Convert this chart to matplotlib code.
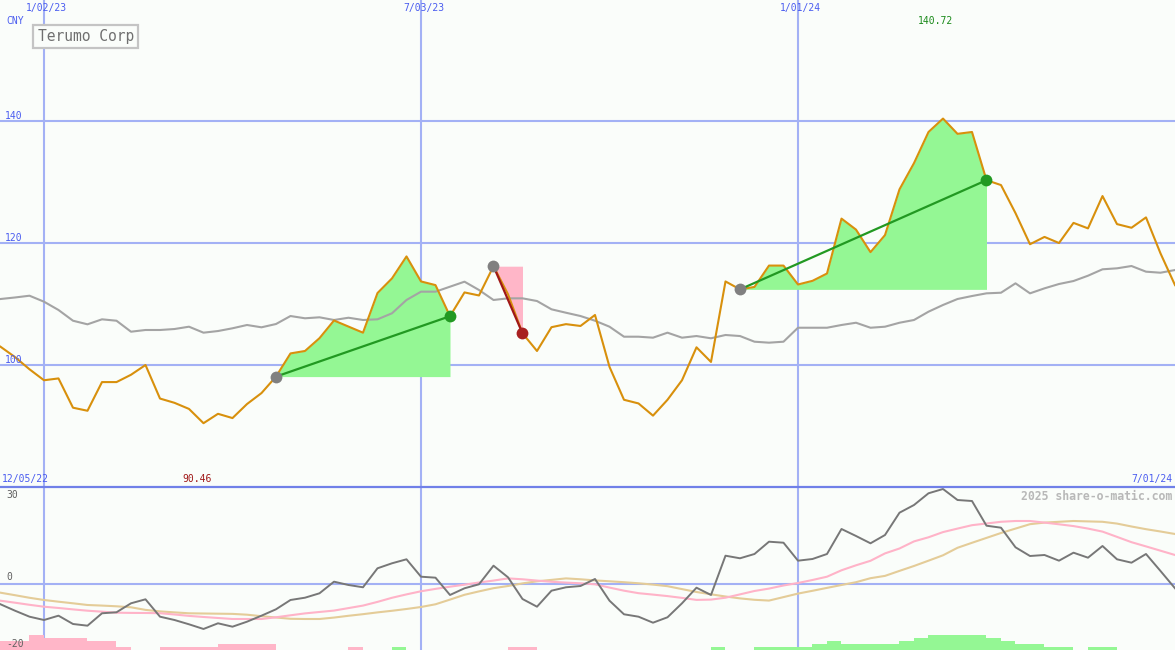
import matplotlib
matplotlib.use("Agg")
import matplotlib.pyplot as plt
from matplotlib.patches import Rectangle

# ---------------- data (weekly, week index 0 = 1/02/23) ----------------
weeks = list(range(-3, 79))
price = [103.0, 101.3, 99.3, 97.5, 97.8, 93.0, 92.5, 97.2, 97.2, 98.4,
         100.0, 94.5, 93.8, 92.8, 90.46, 92.0, 91.3, 93.6, 95.4, 98.1,
         101.9, 102.3, 104.4, 107.3, 106.3, 105.3, 111.8, 114.2, 117.8, 113.7,
         113.1, 108.0, 111.9, 111.4, 116.2, 111.6, 105.2, 102.3, 106.2, 106.7,
         106.4, 108.2, 99.7, 94.3, 93.7, 91.7, 94.3, 97.5, 102.9, 100.5,
         113.7, 112.4, 112.8, 116.3, 116.3, 113.2, 113.8, 115.0, 124.0, 122.2,
         118.5, 121.3, 128.8, 133.1, 138.2, 140.4, 137.9, 138.2, 130.3, 129.5,
         124.9, 119.8, 121.0, 120.0, 123.3, 122.4, 127.7, 123.1, 122.5, 124.2,
         118.3, 113.1]
avg = [110.82, 111.07, 111.36, 110.38, 109.02, 107.26, 106.67, 107.49, 107.26, 105.46,
       105.74, 105.74, 105.90, 106.28, 105.30, 105.57, 106.02, 106.56, 106.18, 106.72,
       108.03, 107.66, 107.82, 107.38, 107.75, 107.38, 107.49, 108.48, 110.66, 112.02,
       112.02, 112.84, 113.66, 112.30, 110.66, 110.93, 110.93, 110.49, 109.13, 108.57,
       108.03, 107.26, 106.28, 104.64, 104.64, 104.48, 105.30, 104.48, 104.75, 104.38,
       104.92, 104.75, 103.82, 103.66, 103.82, 106.11, 106.11, 106.11, 106.56, 106.93,
       106.11, 106.28, 106.93, 107.38, 108.74, 109.84, 110.82, 111.31, 111.75, 111.85,
       113.39, 111.75, 112.57, 113.28, 113.77, 114.64, 115.69, 115.85, 116.23, 115.30,
       115.13, 115.57]
momentum = [-7.57, -9.93, -12.13, -13.35, -11.76, -14.82, -15.44, -10.88, -10.51, -7.21,
            -5.74, -12.13, -13.35, -14.93, -16.65, -14.56, -15.81, -13.97, -11.76, -9.41,
            -5.99, -5.15, -3.53, 0.74, -0.48, -1.32, 5.66, 7.50, 8.97, 2.57,
            2.21, -4.15, -1.69, -0.22, 6.62, 2.35, -5.63, -8.46, -2.57, -1.32,
            -0.85, 1.73, -6.25, -11.25, -12.13, -14.34, -12.35, -7.21, -1.47, -4.15,
            10.29, 9.34, 10.92, 15.44, 15.07, 8.46, 9.08, 10.92, 20.11, 17.54,
            14.85, 17.90, 26.10, 28.93, 33.24, 34.82, 30.77, 30.40, 21.32, 20.59,
            13.38, 10.18, 10.55, 8.46, 11.40, 9.56, 13.86, 8.97, 7.72, 10.92,
            4.67, -1.69]
signal_fast = [-6.25, -6.99, -7.76, -8.46, -8.93, -9.45, -9.93, -10.29, -10.66, -10.74,
               -10.77, -10.85, -11.32, -11.84, -12.24, -12.61, -12.98, -12.98, -12.98, -12.35,
               -11.62, -10.92, -10.40, -9.89, -8.97, -8.05, -6.69, -5.18, -3.93, -2.79,
               -1.91, -1.10, -0.37, 0.44, 1.14, 1.95, 1.62, 1.14, 0.70, 0.40,
               0.15, -0.22, -1.43, -2.57, -3.49, -4.01, -4.56, -5.22, -5.96, -5.85,
               -5.15, -3.93, -2.68, -1.80, -0.66, 0.26, 1.36, 2.57, 4.93, 6.76,
               8.42, 11.14, 12.94, 15.55, 17.06, 18.97, 20.26, 21.51, 22.13, 22.76,
               23.05, 23.05, 22.46, 21.84, 21.18, 20.26, 19.15, 17.21, 15.26, 13.71,
               12.13, 10.55]
signal_slow = [-3.31, -4.23, -5.18, -5.99, -6.62, -7.21, -7.83, -8.05, -8.31, -8.68,
               -9.63, -10.18, -10.55, -10.88, -10.96, -11.03, -11.10, -11.40, -11.95, -12.43,
               -12.90, -12.98, -12.98, -12.46, -11.80, -11.21, -10.55, -9.96, -9.30, -8.57,
               -7.57, -5.85, -4.08, -2.83, -1.65, -0.85, 0.11, 0.88, 1.40, 1.95,
               1.62, 1.21, 0.88, 0.55, 0.15, -0.33, -0.92, -1.99, -3.05, -3.90,
               -4.71, -5.40, -5.92, -6.21, -4.93, -3.64, -2.61, -1.54, -0.48, 0.55,
               2.02, 2.87, 4.71, 6.51, 8.46, 10.44, 13.20, 15.04, 16.84, 18.64,
               20.26, 21.88, 22.46, 22.76, 23.05, 22.90, 22.76, 22.10, 21.03, 20.04,
               19.19, 18.27]
bar_weeks = list(range(-3, 78))
bar_levels = [-3, -3, -5, -4, -4, -4, -3, -3, -1, 0,
              0, -1, -1, -1, -1, -2, -2, -2, -2, 0,
              0, 0, 0, 0, -1, 0, 0, 1, 0, 0,
              0, 0, 0, 0, 0, -1, -1, 0, 0, 0,
              0, 0, 0, 0, 0, 0, 0, 0, 0, 1,
              0, 0, 1, 1, 1, 1, 2, 3, 2, 2,
              2, 2, 3, 4, 5, 5, 5, 5, 4, 3,
              2, 2, 1, 1, 0, 1, 1, 0, 0, 0,
              0]
trades = [(16, 28), (31, 33), (48, 65)]   # (start week, end week)

price_ticks = [100, 120, 140]
osc_ticks = [30, 0, -20]
date_ticks = [0, 26, 52]
date_labels = ["1/02/23", "7/03/23", "1/01/24"]
first_date, last_date = "12/05/22", "7/01/24"
low_value, low_week = 90.46, 11
high_value, high_week = 140.72, 62
currency = "CNY"
title = "Terumo Corp"
credit = "2025 share-o-matic.com"

# ---------------- styling ----------------
W, H = 1175, 650
SPLIT = 487
BG = "#fafdfa"
GRID = "#a3b1f5"
SEP = "#7080e8"
BLUE_TXT = "#4a5cf0"
FONT = "DejaVu Sans Mono"
XMIN, XMAX = -3.034, 78.0

fig = plt.figure(figsize=(W / 100, H / 100), dpi=100)
fig.patch.set_facecolor(BG)
ax1 = fig.add_axes([0, 1 - SPLIT / H, 1, SPLIT / H])
ax2 = fig.add_axes([0, 0, 1, 1 - SPLIT / H])
for ax in (ax1, ax2):
    ax.set_facecolor(BG)
    ax.set_xlim(XMIN, XMAX)
    for s in ax.spines.values():
        s.set_visible(False)
    ax.set_xticks([])
    ax.set_yticks([])
ax1.set_ylim(80.0, 159.84)
ax2.set_ylim(-24.38, 35.55)

# grid
for t in date_ticks:
    ax1.axvline(t, color=GRID, lw=1.5, zorder=1)
    ax2.axvline(t, color=GRID, lw=1.5, zorder=1)
for t in price_ticks:
    ax1.axhline(t, color=GRID, lw=1.5, zorder=1)
ax2.axhline(0, color=GRID, lw=1.5, zorder=1)
fig.add_artist(plt.Line2D([0, 1], [1 - SPLIT / H, 1 - SPLIT / H],
                          transform=fig.transFigure, color=SEP, lw=1.6, zorder=5))

# trades
for s, e in trades:
    i0, i1 = weeks.index(s), weeks.index(e)
    xs = weeks[i0:i1 + 1]
    ys = price[i0:i1 + 1]
    base = price[i0]
    win = price[i1] >= base
    if win:
        ax1.fill_between(xs, ys, base, where=[y >= base for y in ys], interpolate=True,
                         color="#94f794", lw=0, zorder=2)
        col, endcol = "#229922", "#229922"
    else:
        ax1.fill_between(xs, ys, base, where=[y <= base for y in ys], interpolate=True,
                         color="#ffb6c8", lw=0, zorder=2)
        col, endcol = "#a01818", "#a82020"
    ax1.plot([s, e], [base, price[i1]], color=col, lw=1.6, zorder=6)
    ax1.plot([s], [base], "o", color="#808080", ms=8.5, mec="none", zorder=7)
    ax1.plot([e], [price[i1]], "o", color=endcol, ms=8.5, mec="none", zorder=7)

ax1.plot(weeks, avg, color="#a4a4a4", lw=1.5, zorder=3)
ax1.plot(weeks, price, color="#d8900c", lw=1.5, zorder=4)

# lower panel
bar_unit = 1.103
ybot = ax2.get_ylim()[0]
ax2.bar([w + 0.5 for w in bar_weeks], [abs(l) * bar_unit for l in bar_levels], width=1.0,
        bottom=ybot, color=["#ffb6c8" if l < 0 else "#94f794" for l in bar_levels],
        lw=0, zorder=2)
ax2.plot(weeks, signal_slow, color="#e4cc98", lw=1.5, zorder=3)
ax2.plot(weeks, signal_fast, color="#ffb3c8", lw=1.5, zorder=3)
ax2.plot(weeks, momentum, color="#777777", lw=1.4, zorder=4)

# texts
def px(x):
    return XMIN + (XMAX - XMIN) * x / W

for t in price_ticks:
    ax1.text(px(5), t + 0.3, str(t), color=BLUE_TXT, fontsize=7, family=FONT,
             ha="left", va="baseline", zorder=8)
for t in osc_ticks:
    ax2.text(px(6), t + (0.6 if t >= 0 else -0.3), str(t), color="#606060", fontsize=7,
             family=FONT, ha="left", va="bottom" if t >= 0 else "top", zorder=8)
xa = ax1.get_xaxis_transform()
for t, lab in zip(date_ticks, date_labels):
    ax1.text(t + 0.2, 1 - 3 / SPLIT, lab, color=BLUE_TXT, fontsize=7, family=FONT,
             ha="center", va="top", transform=xa)
fig.text(6 / W, 1 - 21 / H, currency, color=BLUE_TXT, fontsize=7, family=FONT,
         ha="left", va="center")
fig.text(2 / W, 1 - 479 / H, first_date, color=BLUE_TXT, fontsize=7, family=FONT,
         ha="left", va="center")
fig.text(1172 / W, 1 - 479 / H, last_date, color=BLUE_TXT, fontsize=7, family=FONT,
         ha="right", va="center")
ax1.text(low_week - 0.45, 1 - 479 / SPLIT, f"{low_value:.2f}", color="#a01818", fontsize=7,
         family=FONT, ha="center", va="center", transform=xa)
ax1.text(high_week - 0.55, 1 - 21 / SPLIT, f"{high_value:.2f}", color="#1a8a1a", fontsize=7,
         family=FONT, ha="center", va="center", transform=xa)
fig.text(1172 / W, 1 - 496 / H, credit, color="#b8b8b8", fontsize=8.3, family=FONT,
         weight="bold", ha="right", va="center")
fig.patches.append(Rectangle((33 / W, 1 - 48 / H), 105 / W, 23 / H, transform=fig.transFigure,
                             facecolor=BG, edgecolor="#c4c4c4", lw=1.6, zorder=9))
fig.text(86 / W, 1 - 36.5 / H, title, color="#707070", fontsize=10.5, family=FONT,
         ha="center", va="center", zorder=10)

fig.savefig("out.png", dpi=100, facecolor=BG)
